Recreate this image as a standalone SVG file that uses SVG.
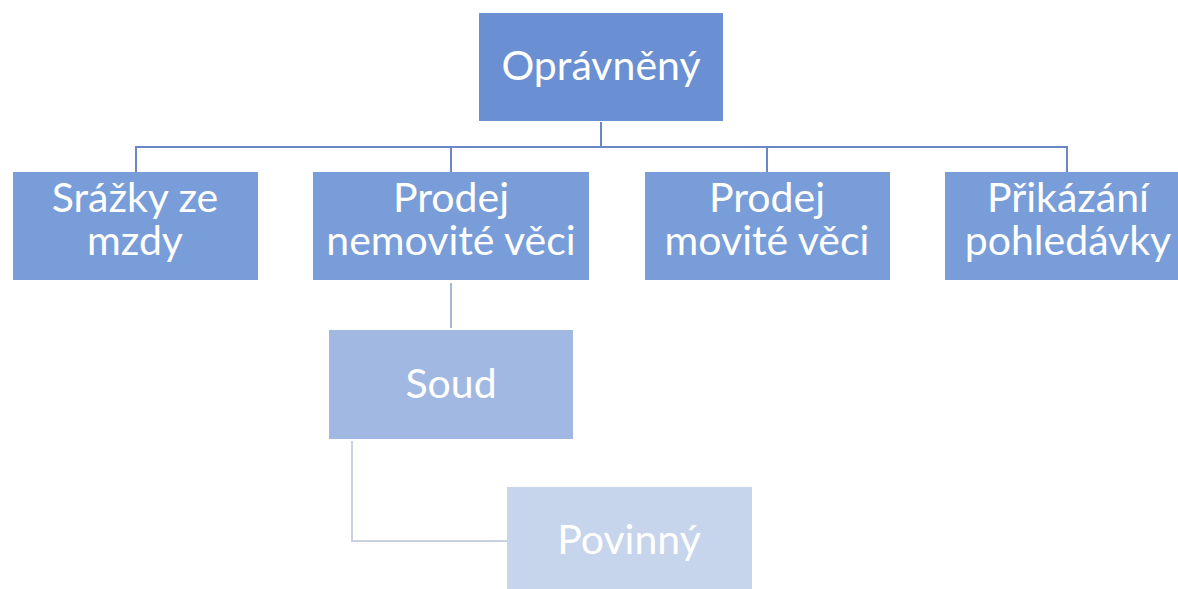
<svg xmlns="http://www.w3.org/2000/svg" width="1178" height="589" viewBox="0 0 1178 589">
<style>
text{font-family:Lato,"Liberation Sans",sans-serif;font-size:41px;fill:#ffffff;text-anchor:middle}
.l0{fill:#6a8fd2}
.l1{fill:#799dd8}
.l2{fill:#a1b9e2}
.l3{fill:#c6d4ec}
.c1{stroke:#6a87c8;stroke-width:2;fill:none}
.c2{stroke:#a9b6d2;stroke-width:2;fill:none}
.c3{stroke:#c9d1e2;stroke-width:2;fill:none}
</style>
<rect width="1178" height="589" fill="#ffffff"/>
<g id="connectors">
<path class="c1" d="M601,122 V147 M136,172 V147 H1067 V172 M451,147 V172 M767,147 V172"/>
<path class="c2" d="M451,283 V328"/>
<path class="c3" d="M352,441 V541 H507"/>
</g>
<g id="opravneny">
<rect class="l0" x="479" y="13" width="244" height="108"/>
<text x="601" y="80">Oprávněný</text>
</g>
<g id="srazky">
<rect class="l1" x="13" y="172" width="245" height="108"/>
<text x="135" y="212">Srážky ze<tspan x="135" y="255">mzdy</tspan></text>
</g>
<g id="prodej-nemovite">
<rect class="l1" x="313" y="172" width="276" height="108"/>
<text x="451" y="212">Prodej<tspan x="451" y="255">nemovité věci</tspan></text>
</g>
<g id="prodej-movite">
<rect class="l1" x="645" y="172" width="245" height="108"/>
<text x="767" y="212">Prodej<tspan x="767" y="255">movité věci</tspan></text>
</g>
<g id="prikazani">
<rect class="l1" x="945" y="172" width="245" height="108"/>
<text x="1068" y="212">Přikázání<tspan x="1068" y="255">pohledávky</tspan></text>
</g>
<g id="soud">
<rect class="l2" x="329" y="330" width="244" height="109"/>
<text x="451" y="398">Soud</text>
</g>
<g id="povinny">
<rect class="l3" x="507" y="487" width="245" height="108"/>
<text x="629" y="554">Povinný</text>
</g>
</svg>
